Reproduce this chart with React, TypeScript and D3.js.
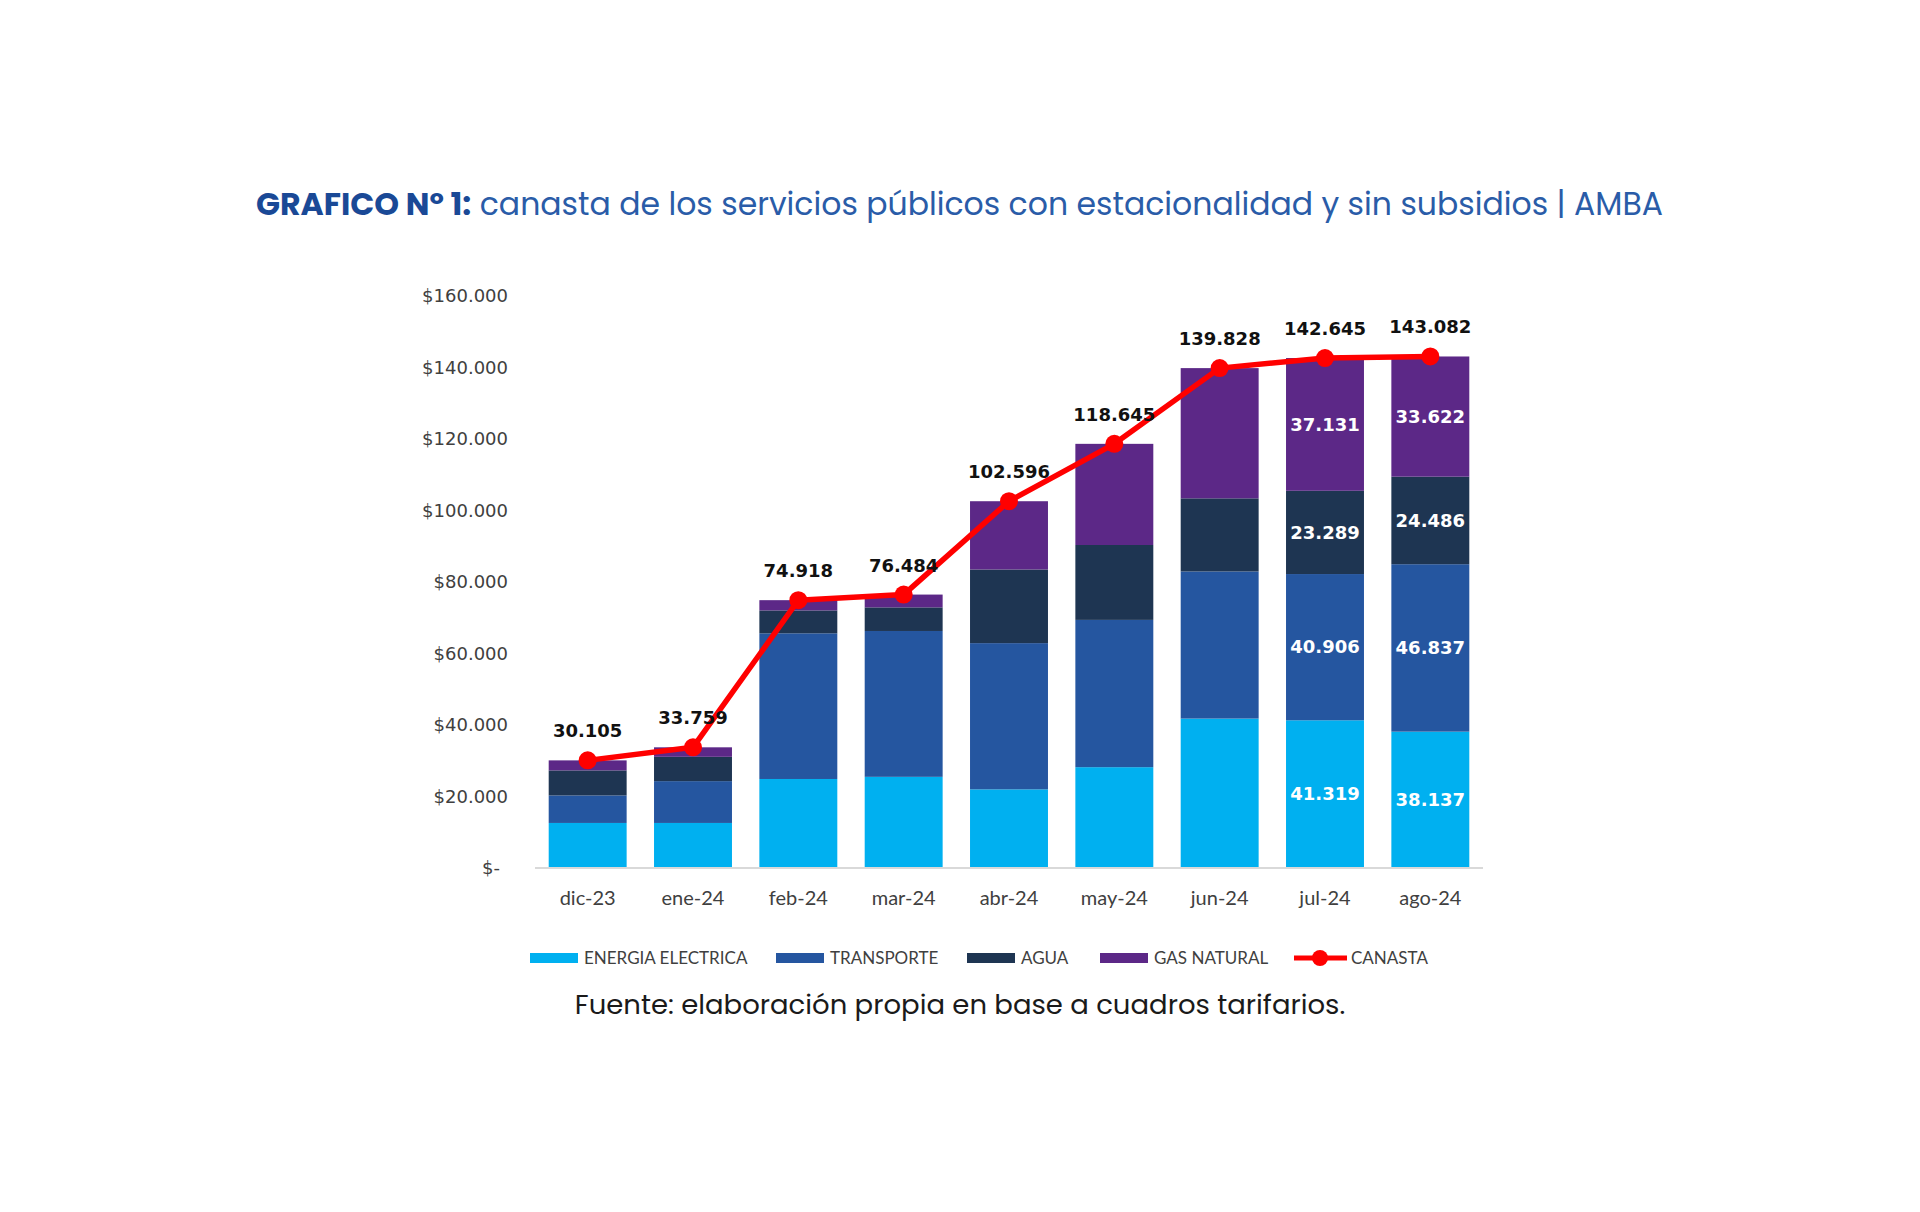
import React from 'react';
import { scaleBand, scaleLinear, stack, line } from 'd3';

const categories = ['dic-23', 'ene-24', 'feb-24', 'mar-24', 'abr-24', 'may-24', 'jun-24', 'jul-24', 'ago-24'];
const energia = [12600, 12600, 24900, 25500, 22000, 28200, 41800, 41319, 38137];
const transporte = [7700, 11700, 40750, 40800, 40900, 41200, 41150, 40906, 46837];
const agua = [7000, 6800, 6400, 6600, 20600, 20950, 20450, 23289, 24486];
const gas = [2805, 2659, 2868, 3584, 19096, 28295, 36428, 37131, 33622];
const canasta = [30105, 33759, 74918, 76484, 102596, 118645, 139828, 142645, 143082];
const yTicks = [0, 20000, 40000, 60000, 80000, 100000, 120000, 140000, 160000];
// which segments get a value printed inside (only the last two months)
const labelled = ['jul-24', 'ago-24'];

const seriesKeys = ['energia', 'transporte', 'agua', 'gas'];
const seriesNames = ['ENERGIA ELECTRICA', 'TRANSPORTE', 'AGUA', 'GAS NATURAL'];
const colors = ['#00b0f0', '#2556a0', '#1e3552', '#5c2887'];

const fmt = (v: number) => Math.round(v).toLocaleString('de-DE');

const App = () => {
  const rows = categories.map((c, i) => ({
    cat: c,
    energia: energia[i],
    transporte: transporte[i],
    agua: agua[i],
    gas: gas[i],
  }));

  const x = scaleBand().domain(categories).range([535, 1483]).paddingInner(0.26).paddingOuter(0.13);
  const y = scaleLinear().domain([0, 160000]).range([868, 296]);
  const stacked = stack().keys(seriesKeys)(rows as any);

  const cx = (c: string) => (x(c) as number) + x.bandwidth() / 2;
  const path = line<number>()
    .x((_, i) => cx(categories[i]))
    .y((d) => y(d));

  const legendX = [530, 776, 967, 1100];

  return (
    <svg width={1920} height={1212} style={{ position: 'absolute', left: 0, top: 0, background: '#fff' }}>
      <text x={256} y={215} fontFamily="Poppins, Inter, sans-serif" fontSize={31.5} fill="#2a5ca8">
        <tspan fontWeight={700} fill="#1a4996">GRAFICO Nº 1:</tspan>
        <tspan> canasta de los servicios públicos con estacionalidad y sin subsidios | AMBA</tspan>
      </text>

      {/* y axis labels */}
      {yTicks.map((t) => (
        <text
          key={t}
          x={t === 0 ? 500 : 508}
          y={y(t)}
          dy="0.35em"
          textAnchor="end"
          fontFamily="DejaVu Sans, Verdana, sans-serif"
          fontSize={18}
          fill="#404040"
        >
          {t === 0 ? '$-' : '$' + fmt(t)}
        </text>
      ))}

      {/* bars */}
      {stacked.map((s, si) => (
        <g key={si} fill={colors[si]}>
          {s.map((d, i) => (
            <rect
              key={i}
              x={x(categories[i])}
              width={x.bandwidth()}
              y={y(d[1])}
              height={y(d[0]) - y(d[1])}
            />
          ))}
        </g>
      ))}

      <line x1={535} x2={1483} y1={y(0)} y2={y(0)} stroke="#d9d9d9" strokeWidth={2} />

      {/* inside labels */}
      {stacked.map((s, si) =>
        s.map((d, i) =>
          labelled.includes(categories[i]) ? (
            <text
              key={si + '-' + i}
              x={cx(categories[i])}
              y={y((d[0] + d[1]) / 2)}
              dy="0.35em"
              textAnchor="middle"
              fontFamily="DejaVu Sans, Verdana, sans-serif"
              fontWeight="bold"
              fontSize={18}
              fill="#fff"
            >
              {fmt(d[1] - d[0])}
            </text>
          ) : null
        )
      )}

      {/* canasta line */}
      <path d={path(canasta) as string} fill="none" stroke="#ff0000" strokeWidth={5.5} strokeLinejoin="round" />
      {canasta.map((v, i) => (
        <circle key={i} cx={cx(categories[i])} cy={y(v)} r={9} fill="#ff0000" />
      ))}
      {canasta.map((v, i) => (
        <text
          key={'t' + i}
          x={cx(categories[i])}
          y={y(v) - 23}
          textAnchor="middle"
          fontFamily="DejaVu Sans, Verdana, sans-serif"
          fontWeight="bold"
          fontSize={18}
          fill="#111"
        >
          {fmt(v)}
        </text>
      ))}

      {/* x labels */}
      {categories.map((c) => (
        <text key={c} x={cx(c)} y={905} textAnchor="middle" fontFamily="Lato, sans-serif" fontSize={20} fill="#404040">
          {c}
        </text>
      ))}

      {/* legend */}
      {seriesNames.map((n, i) => (
        <g key={n}>
          <rect x={legendX[i]} y={953} width={48} height={10} fill={colors[i]} />
          <text x={legendX[i] + 54} y={964} fontFamily="Lato, sans-serif" fontSize={17} fill="#404040">
            {n}
          </text>
        </g>
      ))}
      <line x1={1294} x2={1347} y1={958} y2={958} stroke="#ff0000" strokeWidth={5} />
      <circle cx={1320} cy={958} r={8} fill="#ff0000" />
      <text x={1351} y={964} fontFamily="Lato, sans-serif" fontSize={17} fill="#404040">
        CANASTA
      </text>

      <text x={960} y={1014} textAnchor="middle" fontFamily="Poppins, Inter, sans-serif" fontSize={27.5} fill="#1a1a1a">
        Fuente: elaboración propia en base a cuadros tarifarios.
      </text>
    </svg>
  );
};

export default App;
